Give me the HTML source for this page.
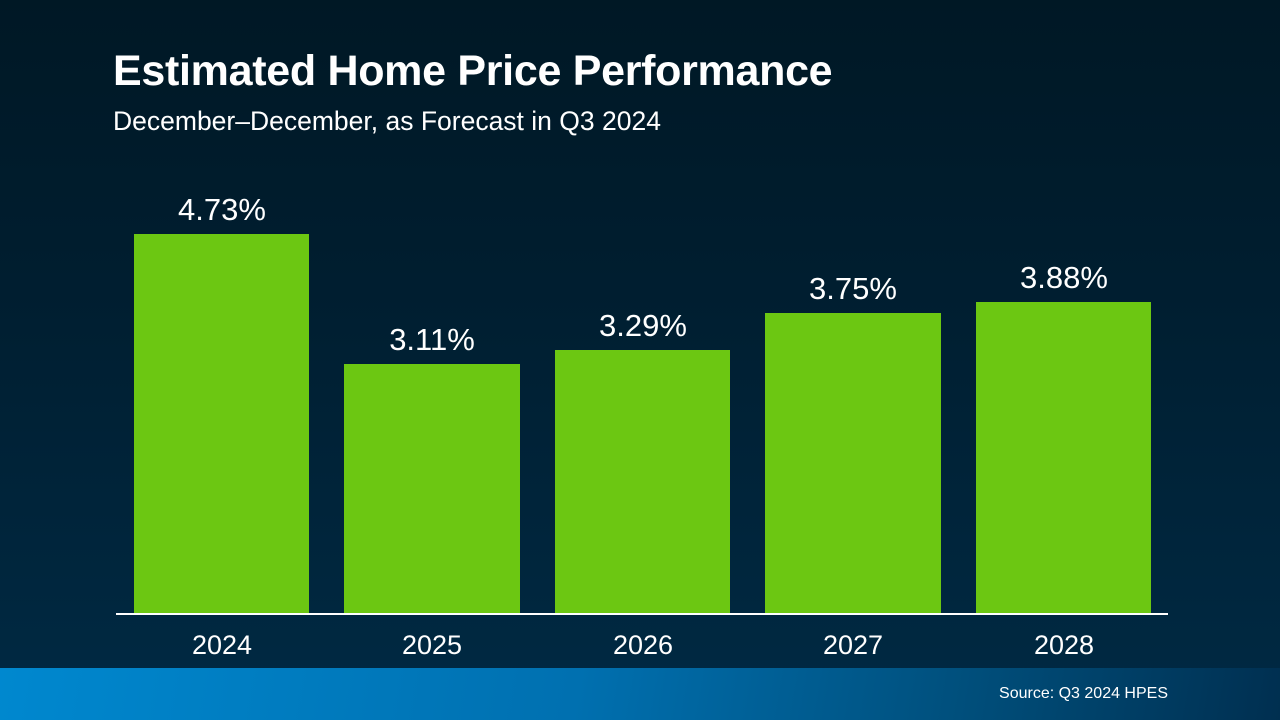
<!DOCTYPE html>
<html><head><meta charset="utf-8"><style>
*{margin:0;padding:0}
body{width:1280px;height:720px;overflow:hidden;position:relative;font-family:"Liberation Sans",Arial,sans-serif;color:#fff;background:linear-gradient(180deg,#001825 0%,#001e30 40%,#002a44 100%)}
.t{position:absolute;left:113px;top:46px;font-size:43px;font-weight:bold;letter-spacing:-0.3px;line-height:50px}
.s{position:absolute;left:113px;top:106px;font-size:26.5px;line-height:30px}
.b{position:absolute;background:#6cc712;bottom:106px}
.v{position:absolute;font-size:31px;width:176px;text-align:center;line-height:36px}
.y{position:absolute;top:629px;font-size:27px;width:176px;text-align:center;line-height:32px}
.ax{position:absolute;left:116px;width:1052px;top:613px;height:2px;background:#fff}
.f{position:absolute;left:0;top:668px;width:1280px;height:52px;background:linear-gradient(100deg,#0088cf 0%,#0070b0 45%,#004f7c 75%,#002f50 100%)}
.src{position:absolute;right:112px;top:684px;font-size:16px;line-height:20px}
</style></head><body>
<div class="t">Estimated Home Price Performance</div>
<div class="s">December–December, as Forecast in Q3 2024</div>
<div class="b" style="left:134px;width:175px;top:234px"></div>
<div class="b" style="left:344px;width:176px;top:364px"></div>
<div class="b" style="left:555px;width:175px;top:350px"></div>
<div class="b" style="left:765px;width:176px;top:313px"></div>
<div class="b" style="left:976px;width:175px;top:302px"></div>
<div class="v" style="left:134px;top:192px">4.73%</div>
<div class="v" style="left:344px;top:322px">3.11%</div>
<div class="v" style="left:555px;top:308px">3.29%</div>
<div class="v" style="left:765px;top:271px">3.75%</div>
<div class="v" style="left:976px;top:260px">3.88%</div>
<div class="ax"></div>
<div class="y" style="left:134px">2024</div>
<div class="y" style="left:344px">2025</div>
<div class="y" style="left:555px">2026</div>
<div class="y" style="left:765px">2027</div>
<div class="y" style="left:976px">2028</div>
<div class="f"></div>
<div class="src">Source: Q3 2024 HPES</div>
</body></html>
